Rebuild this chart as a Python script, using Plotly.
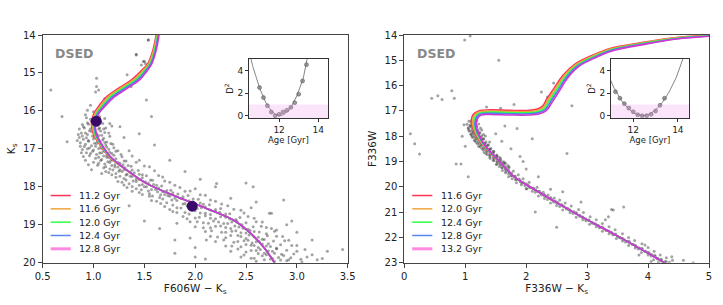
import numpy as np
import plotly.graph_objects as go

# ---------------- data ----------------
AGES_L = ["11.2 Gyr", "11.6 Gyr", "12.0 Gyr", "12.4 Gyr", "12.8 Gyr"]
AGES_R = ["11.6 Gyr", "12.0 Gyr", "12.4 Gyr", "12.8 Gyr", "13.2 Gyr"]
ISO_COLORS = ["#ff3355", "#f2a33a", "#33ff44", "#4f7ff0", "#d236d2"]
LEGEND_COLORS = ["#ff3355", "#f2a33a", "#33ff44", "#5a86f0", "#ff88e2"]
LEGEND_WIDTHS = [1.5, 1.5, 1.5, 1.5, 3]
AGE_STEPS = [-2, -1, 0, 1, 2]

# left panel isochrone (middle age), K_s vs F606W-K_s
iso_l_y = [14.0, 14.40, 14.75, 14.97, 15.19, 15.40, 15.62, 15.85, 16.06, 16.28, 16.59, 16.85,
           17.21, 17.56, 17.91, 18.26, 18.57, 18.87, 19.14, 19.58, 20.0]
iso_l_x = [1.630, 1.600, 1.555, 1.490, 1.410, 1.290, 1.170, 1.090, 1.030, 1.000, 1.012, 1.063,
           1.162, 1.326, 1.52, 1.82, 2.11, 2.37, 2.51, 2.67, 2.78]
iso_l_dx = [0.007, 0.008, 0.010, 0.015, 0.020, 0.022, 0.020, 0.016, 0.012, 0.010, 0.008, 0.006,
            0.003, 0.001, 0, 0, 0, 0, 0, 0, 0]
iso_l_dy = [0] * 21

# right panel isochrone (middle age), F336W vs F336W-K_s
iso_r_y = [14.03, 14.13, 14.33, 14.59, 14.85, 15.2, 15.65, 16.2, 16.6, 16.9, 17.02, 17.07,
           17.07, 17.05, 17.08, 17.2, 17.48, 17.89, 18.4, 19.0, 19.6, 20.0, 21.0, 22.0, 23.0]
iso_r_x = [5.0, 4.47, 3.93, 3.38, 3.11, 2.83, 2.64, 2.49, 2.38, 2.30, 2.20, 2.05,
           1.74, 1.40, 1.24, 1.17, 1.14, 1.19, 1.32, 1.56, 1.80, 2.06, 2.77, 3.54, 4.27]
iso_r_dx = [0, 0, 0.005, 0.008, 0.012, 0.015, 0.018, 0.02, 0.02, 0.015, 0.01, 0,
            0, 0, 0.01, 0.02, 0.02, 0.015, 0.008, 0.003, 0, 0, 0, 0, 0]
iso_r_dy = [0.01, 0.015, 0.02, 0.025, 0.025, 0.025, 0.03, 0.035, 0.04, 0.045, 0.045, 0.045,
            0.045, 0.045, 0.04, 0.03, 0.015, 0.005, 0, 0, 0, 0, 0, 0, 0]

# fiducial points (left panel)
dots_x = [1.027, 1.97]
dots_y = [16.27, 18.51]

# star photometry, left panel (colour, K_s)
stars_l = [
 (1.538,14.13),(1.49,14.70),(1.51,14.75),(1.47,14.79),(1.42,14.53),(1.44,15.10),(1.37,15.36),
 (1.33,15.05),(1.26,15.40),(1.21,15.58),(1.16,15.63),(1.11,15.67),(1.03,15.36),(1.05,15.45),
 (1.02,15.50),(0.97,15.85),(0.94,15.98),(1.00,16.02),(0.92,16.10),(1.57,16.15),(1.52,15.71),
 (1.06,16.15),(1.11,16.20),(1.16,16.33),(1.26,16.42),(1.50,14.69),(1.42,14.51),(1.03,15.14),
 (0.58,15.45),(0.69,16.15),(0.74,16.81),(1.54,14.13),
 (0.93,16.18),(0.97,16.22),(1.02,16.15),(1.06,16.28),(0.95,16.35),(0.99,16.40),(1.04,16.38),
 (1.09,16.33),(0.91,16.45),(0.96,16.52),(1.01,16.55),(1.05,16.48),(1.12,16.45),(0.88,16.58),
 (0.94,16.62),(0.99,16.66),(1.03,16.60),(1.08,16.64),(1.15,16.58),(0.86,16.70),(1.18,16.40),
 (0.90,16.75),(0.95,16.78),(1.00,16.74),(1.04,16.80),(1.09,16.77),(1.13,16.82),(0.92,16.88),
 (0.98,16.92),(1.03,16.86),(1.07,16.95),(1.12,16.90),(1.19,16.88),(0.94,17.00),(1.00,17.03),
 (1.05,16.99),(1.10,17.05),(1.15,17.01),(1.22,17.06),(0.97,17.12),(1.03,17.15),(1.08,17.10),
 (1.13,17.17),(1.18,17.12),(1.27,17.15),(1.35,17.05),(0.88,17.10),
 (1.02,17.25),(1.08,17.28),(1.13,17.22),(1.17,17.30),(1.22,17.26),(1.30,17.32),(1.05,17.38),
 (1.11,17.40),(1.16,17.36),(1.21,17.42),(1.26,17.38),(1.34,17.44),(1.42,17.35),(1.10,17.50),
 (1.16,17.53),(1.21,17.48),(1.26,17.55),(1.31,17.50),(1.38,17.56),(1.50,17.45),(1.15,17.62),
 (1.22,17.65),(1.28,17.60),(1.33,17.67),(1.40,17.63),(1.48,17.68),(1.60,17.58),(1.08,17.65),
 (1.22,17.75),(1.30,17.78),(1.36,17.72),(1.42,17.80),(1.48,17.76),(1.56,17.82),(1.68,17.74),
 (1.28,17.88),(1.35,17.92),(1.42,17.86),(1.48,17.94),(1.54,17.90),(1.62,17.96),(1.75,17.88),
 (1.33,18.02),(1.42,18.05),(1.50,18.00),(1.57,18.07),(1.64,18.03),(1.72,18.10),(1.85,18.02),
 (1.45,18.15),(1.55,18.18),(1.63,18.13),(1.70,18.20),(1.78,18.16),(1.90,18.12),(2.00,18.05),
 (1.55,18.25),(1.65,18.28),(1.73,18.23),(1.80,18.30),(1.88,18.26),(1.98,18.32),(2.10,18.22),
 (1.62,18.38),(1.72,18.42),(1.82,18.36),(1.90,18.44),(1.98,18.40),(2.08,18.46),(2.20,18.38),
 (1.70,18.52),(1.82,18.55),(1.92,18.50),(2.02,18.57),(2.10,18.53),(2.20,18.60),(2.32,18.50),
 (1.78,18.65),(1.90,18.68),(2.00,18.63),(2.10,18.70),(2.20,18.66),(2.30,18.72),(2.45,18.62),
 (2.55,18.55),
 (1.88,18.78),(2.00,18.82),(2.10,18.76),(2.20,18.84),(2.30,18.80),(2.40,18.86),(2.52,18.78),
 (1.95,18.92),(2.08,18.95),(2.18,18.90),(2.28,18.97),(2.36,18.93),(2.46,19.00),(2.60,18.92),
 (2.00,19.05),(2.15,19.08),(2.25,19.03),(2.35,19.10),(2.43,19.06),(2.52,19.12),(2.65,19.04),
 (2.75,19.10),(2.10,19.18),(2.30,19.20),(2.40,19.16),(2.50,19.22),(2.58,19.18),(2.70,19.24),
 (2.15,19.30),(2.30,19.34),(2.42,19.28),(2.50,19.36),(2.58,19.32),(2.66,19.38),(2.80,19.30),
 (2.20,19.44),(2.38,19.46),(2.48,19.42),(2.56,19.48),(2.63,19.44),(2.72,19.50),(2.88,19.42),
 (2.30,19.56),(2.45,19.58),(2.55,19.54),(2.62,19.60),(2.70,19.56),(2.80,19.62),(2.95,19.55),
 (2.35,19.70),(2.50,19.72),(2.60,19.68),(2.68,19.75),(2.76,19.70),(2.85,19.78),(3.00,19.70),
 (2.45,19.85),(2.58,19.88),(2.66,19.82),(2.74,19.90),(2.82,19.86),(2.92,19.92),(3.10,19.85),
 (2.60,19.96),(2.78,19.97),(2.90,19.95),(3.45,19.65),(3.20,19.92),(3.05,19.98),
 (1.75,17.30),(1.90,17.60),(2.05,17.80),(2.20,18.00),(2.35,18.30),(2.60,18.40),(2.75,18.70),
 (2.90,19.00),(1.60,16.90),(1.45,16.60),(1.30,16.70),(2.50,17.90),(3.15,19.40),(3.30,19.70),
 (1.50,18.90),(1.65,19.10),(1.80,19.40),(2.00,19.60),(2.10,19.90),(1.35,18.50),
 (1.80,19.75),(1.82,18.96),(2.11,19.40),(2.80,19.14),(2.73,18.70),(2.87,18.35),(2.57,18.00),
 (2.21,17.91),(1.95,19.35),(2.00,19.85),(3.00,19.20),(2.95,18.90),
 # blue edge of the turnoff region
 (0.85,16.62),(0.87,16.93),(0.89,17.02),(0.84,16.78),(0.90,17.20),(0.92,17.30),(0.95,17.42),
 (0.98,17.55),(0.86,16.48),(0.89,16.36),
 # dense main sequence
 (0.94,16.31),(0.98,16.27),(1.03,16.33),(1.07,16.29),
 (0.90,16.42),(0.97,16.47),(1.00,16.41),(1.06,16.45),(1.10,16.48),
 (0.92,16.58),(0.98,16.54),(1.02,16.59),(1.07,16.53),(1.11,16.57),
 (0.89,16.66),(0.93,16.71),(1.01,16.69),(1.05,16.65),(1.10,16.72),(1.16,16.67),
 (0.87,16.84),(0.95,16.80),(1.01,16.85),(1.06,16.79),(1.11,16.83),(1.17,16.86),
 (0.91,16.94),(0.96,16.98),(1.02,16.93),(1.08,16.99),(1.13,16.95),(1.20,16.97),
 (0.93,17.10),(0.99,17.06),(1.06,17.11),(1.11,17.07),(1.16,17.09),(1.24,17.05),
 (0.96,17.18),(1.05,17.22),(1.10,17.19),(1.15,17.23),(1.20,17.17),(1.28,17.21),(1.38,17.19),
 (1.00,17.35),(1.07,17.31),(1.14,17.34),(1.19,17.30),(1.24,17.36),(1.32,17.32),(1.45,17.30),
 (1.04,17.43),(1.12,17.47),(1.18,17.44),(1.24,17.48),(1.29,17.42),(1.37,17.46),(1.55,17.47),
 (1.12,17.60),(1.19,17.56),(1.25,17.59),(1.30,17.55),(1.36,17.61),(1.44,17.57),
 (1.18,17.68),(1.26,17.72),(1.32,17.69),(1.38,17.73),(1.45,17.67),(1.52,17.71),(1.64,17.70),
 (1.24,17.86),(1.32,17.82),(1.39,17.85),(1.45,17.81),(1.51,17.87),(1.58,17.83),(1.70,17.85),
 (1.30,17.95),(1.38,17.99),(1.45,17.96),(1.52,18.00),(1.59,17.94),(1.67,17.98),(1.80,17.96),
 (1.38,18.12),(1.47,18.08),(1.54,18.11),(1.61,18.07),(1.68,18.13),(1.76,18.09),(1.95,18.11),
 (1.48,18.20),(1.58,18.24),(1.66,18.21),(1.75,18.25),(1.83,18.19),(1.93,18.23),(2.05,18.21),
 (1.57,18.36),(1.68,18.32),(1.77,18.35),(1.86,18.31),(1.94,18.37),(2.03,18.33),(2.15,18.35),
 (1.66,18.44),(1.78,18.48),(1.88,18.45),(1.96,18.49),(2.05,18.43),(2.14,18.47),(2.26,18.45),
 (1.75,18.60),(1.86,18.56),(1.97,18.59),(2.06,18.55),(2.15,18.61),(2.25,18.57),(2.38,18.59),
 (1.82,18.68),(1.94,18.72),(2.05,18.69),(2.15,18.73),(2.24,18.67),(2.34,18.71),(2.48,18.69),
 (1.92,18.84),(2.04,18.80),(2.15,18.83),(2.25,18.79),(2.34,18.85),(2.44,18.81),(2.58,18.83),
 (2.02,18.92),(2.13,18.96),(2.23,18.93),(2.32,18.97),(2.41,18.91),(2.50,18.95),(2.66,18.93),
 (2.08,19.08),(2.20,19.04),(2.30,19.07),(2.39,19.03),(2.47,19.09),(2.57,19.05),(2.70,19.07),
 (2.16,19.16),(2.26,19.20),(2.36,19.17),(2.45,19.21),(2.54,19.15),(2.63,19.19),(2.78,19.17),
 (2.22,19.32),(2.35,19.28),(2.45,19.31),(2.53,19.27),(2.62,19.33),(2.71,19.29),(2.86,19.31),
 (2.28,19.40),(2.42,19.44),(2.52,19.41),(2.60,19.45),(2.68,19.39),(2.77,19.43),(2.92,19.41),
 (2.36,19.56),(2.50,19.52),(2.58,19.55),(2.66,19.51),(2.74,19.57),(2.84,19.53),(3.00,19.55),
 (2.42,19.64),(2.55,19.68),(2.64,19.65),(2.72,19.69),(2.80,19.63),(2.90,19.67),(3.08,19.65),
 (2.48,19.80),(2.62,19.76),(2.70,19.79),(2.78,19.75),(2.87,19.81),(2.97,19.77),(3.15,19.79),
 (2.55,19.88),(2.68,19.92),(2.76,19.89),(2.84,19.93),(2.94,19.87),(3.04,19.91),(3.25,19.89),
]
stars_l_x = [p[0] for p in stars_l]
stars_l_y = [p[1] for p in stars_l]

# star photometry, right panel (colour, F336W)
stars_r = [
 (1.10,17.45),(1.13,17.55),(1.08,17.60),(1.15,17.50),(1.18,17.62),(1.05,17.70),(1.11,17.72),
 (1.16,17.68),(1.21,17.75),(1.07,17.80),(1.13,17.84),(1.18,17.80),(1.24,17.86),(1.10,17.92),
 (1.15,17.96),(1.20,17.92),(1.27,17.98),(1.12,18.05),(1.18,18.08),(1.23,18.03),(1.30,18.10),
 (1.16,18.18),(1.22,18.20),(1.27,18.15),(1.34,18.22),(1.20,18.30),(1.26,18.33),(1.31,18.28),
 (1.38,18.35),(1.24,18.42),(1.30,18.46),(1.35,18.40),(1.42,18.48),(1.29,18.55),(1.35,18.58),
 (1.40,18.52),(1.47,18.60),(1.34,18.68),(1.40,18.72),(1.46,18.66),(1.52,18.74),(1.40,18.82),
 (1.47,18.86),(1.52,18.80),(1.58,18.88),(1.46,18.95),(1.53,19.00),(1.58,18.94),(1.64,19.02),
 (1.52,19.10),(1.58,19.14),(1.64,19.08),(1.70,19.16),(1.60,19.25),(1.66,19.28),(1.72,19.22),
 (1.67,19.40),(1.73,19.44),(1.79,19.38),(1.75,19.55),(1.82,19.58),(1.87,19.52),(1.83,19.70),
 (1.90,19.73),(1.95,19.68),(1.93,19.85),(2.00,19.88),(2.05,19.82),
 (2.05,20.00),(2.12,20.05),(2.15,20.12),(2.22,20.18),(2.24,20.25),(2.30,20.30),(2.33,20.38),
 (2.40,20.42),(2.42,20.50),(2.48,20.56),(2.52,20.62),(2.58,20.70),(2.62,20.78),(2.68,20.85),
 (2.72,20.92),(2.78,20.98),(2.82,21.05),(2.88,21.12),(2.92,21.20),(2.98,21.26),(3.02,21.32),
 (3.08,21.40),(3.12,21.46),(3.18,21.52),(3.22,21.60),(3.28,21.66),(3.32,21.72),(3.40,21.80),
 (3.44,21.88),(3.50,21.95),(3.55,22.02),(3.60,22.08),(3.66,22.15),(3.70,22.22),(3.76,22.28),
 (3.80,22.35),(3.86,22.42),(3.90,22.48),(3.96,22.55),(4.02,22.62),(4.06,22.68),(4.12,22.75),
 (4.16,22.82),(4.22,22.88),(4.28,22.95),(4.35,22.98),(4.40,22.90),(4.05,22.95),(3.85,22.70),
 (3.95,22.30),
 (2.00,20.08),(2.18,20.02),(2.28,20.22),(2.36,20.32),(2.46,20.44),(2.55,20.52),(2.64,20.64),
 (2.74,20.76),(2.86,20.90),(2.94,21.02),(3.05,21.18),(3.15,21.30),(3.25,21.45),(3.36,21.58),
 (3.46,21.70),(3.58,21.86),(3.68,22.00),(3.78,22.12),(3.90,22.25),(4.00,22.40),(4.10,22.55),
 (4.20,22.70),(4.30,22.80),
 (0.10,17.90),(0.17,18.30),(0.25,18.70),(0.45,16.50),(0.55,16.40),(0.62,16.55),(0.78,16.20),
 (0.82,16.50),(0.85,19.10),(0.93,19.10),(1.05,19.60),(0.98,17.55),(0.95,18.00),(1.00,18.40),
 (1.50,17.90),(1.60,18.20),(1.75,18.50),(1.90,18.80),(2.00,19.30),(2.20,19.60),(1.85,17.70),
 (2.10,18.10),(1.65,17.60),(2.40,20.10),(2.60,20.20),(2.90,20.60),(3.30,21.30),(3.60,20.80),
 (3.40,20.90),(2.50,21.60),(1.95,19.00),(2.15,21.00),(0.99,14.20),(1.08,14.04),(1.55,15.00),
 (1.35,16.85),(1.58,16.90),(1.80,16.75),(2.55,15.85),(2.75,16.80),(2.25,16.25),(2.45,15.90),
 (2.72,15.38),(2.35,16.45),(2.67,18.68),(4.39,22.76),(4.58,22.90),(4.74,23.00),(3.35,21.18),
 (3.43,20.92),
 # dense main sequence ridge
 (1.06,17.41),(1.10,17.38),(1.14,17.42),(1.19,17.39),
 (1.03,17.53),(1.08,17.57),(1.12,17.54),(1.16,17.58),(1.22,17.52),
 (1.05,17.67),(1.10,17.63),(1.14,17.66),(1.19,17.62),(1.25,17.68),
 (1.06,17.76),(1.11,17.80),(1.16,17.77),(1.20,17.81),(1.27,17.75),
 (1.09,17.92),(1.14,17.88),(1.18,17.91),(1.23,17.87),(1.30,17.93),
 (1.11,18.00),(1.16,18.04),(1.21,18.01),(1.26,18.05),(1.33,17.99),
 (1.15,18.16),(1.20,18.12),(1.25,18.15),(1.30,18.11),
 (1.18,18.24),(1.23,18.28),(1.28,18.25),(1.33,18.29),(1.40,18.23),
 (1.22,18.40),(1.27,18.36),(1.32,18.39),(1.37,18.35),
 (1.27,18.48),(1.32,18.52),(1.36,18.49),(1.41,18.53),
 (1.31,18.64),(1.36,18.60),(1.41,18.63),(1.46,18.59),
 (1.36,18.72),(1.41,18.76),(1.46,18.73),(1.51,18.77),
 (1.41,18.88),(1.46,18.84),(1.51,18.87),(1.56,18.83),
 (1.47,18.96),(1.52,19.00),(1.56,18.97),(1.61,19.01),
 (1.51,19.12),(1.56,19.08),(1.61,19.11),(1.66,19.07),
 (1.56,19.20),(1.61,19.24),(1.66,19.21),(1.71,19.25),
 (1.61,19.36),(1.66,19.32),(1.71,19.35),
 (1.66,19.44),(1.71,19.48),(1.76,19.45),
 (1.71,19.60),(1.76,19.56),(1.81,19.59),
 (1.77,19.68),(1.83,19.72),(1.88,19.69),
 (1.84,19.84),(1.90,19.80),(1.95,19.83),
 (1.92,19.92),(1.98,19.96),(2.03,19.93),
 (2.01,20.08),(2.06,20.04),(2.11,20.07),
 (2.10,20.18),(2.15,20.22),(2.20,20.19),
 (2.20,20.36),(2.25,20.32),(2.30,20.35),
 (2.30,20.46),(2.35,20.50),(2.40,20.47),
 (2.40,20.64),(2.45,20.60),(2.50,20.63),
 (2.50,20.74),(2.55,20.78),(2.60,20.75),
 (2.60,20.92),(2.66,20.88),(2.70,20.91),
 (2.72,21.02),(2.77,21.06),(2.82,21.03),
 (2.82,21.20),(2.88,21.16),(2.93,21.19),
 (2.93,21.30),(2.98,21.34),(3.03,21.31),
 (3.04,21.48),(3.09,21.44),(3.14,21.47),
 (3.15,21.58),(3.20,21.62),(3.25,21.59),
 (3.25,21.76),(3.31,21.72),(3.36,21.75),
 (3.36,21.86),(3.42,21.90),(3.47,21.87),
 (3.48,22.04),(3.53,22.00),(3.58,22.03),
 (3.58,22.14),(3.63,22.18),(3.69,22.15),
 (3.68,22.32),(3.74,22.28),(3.79,22.31),
 (3.79,22.42),(3.84,22.46),(3.90,22.43),
 (3.89,22.60),(3.95,22.56),(4.00,22.59),
 (4.00,22.70),(4.05,22.74),(4.11,22.71),
 (4.09,22.88),(4.15,22.84),(4.21,22.87),
 (4.17,22.97),(4.24,22.99),(4.30,22.96),
]
stars_r_x = [p[0] for p in stars_r]
stars_r_y = [p[1] for p in stars_r]

# D^2 vs age insets
inset_l_age = [11.0, 11.2, 11.4, 11.6, 11.8, 12.0, 12.2, 12.4, 12.6, 12.8, 13.0, 13.2, 13.4]
inset_l_d2 = [2.48, 1.60, 0.88, 0.33, 0.00, 0.12, 0.33, 0.48, 0.74, 1.15, 1.90, 3.07, 4.50]
inset_r_age = [11.2, 11.4, 11.6, 11.8, 12.0, 12.2, 12.4, 12.6, 12.8, 13.0, 13.2, 13.4]
inset_r_d2 = [2.12, 1.54, 1.06, 0.68, 0.35, 0.09, 0.00, 0.00, 0.12, 0.42, 0.92, 1.54]
D2_LIMIT = 1.0

# ---------------- figure ----------------
FONT = "DejaVu Sans"
fig = go.Figure()

STAR_MARKER = dict(size=3, color="rgba(50,50,50,0.45)", line=dict(width=0))
fig.add_trace(go.Scatter(x=stars_l_x, y=stars_l_y, mode="markers", marker=STAR_MARKER,
                         showlegend=False, xaxis="x", yaxis="y", hoverinfo="skip"))
fig.add_trace(go.Scatter(x=stars_r_x, y=stars_r_y, mode="markers", marker=STAR_MARKER,
                         showlegend=False, xaxis="x2", yaxis="y2", hoverinfo="skip"))

for k, lab, col in zip(AGE_STEPS, AGES_L, ISO_COLORS):
    xs = [x + k * d for x, d in zip(iso_l_x, iso_l_dx)]
    ys = [y + k * d for y, d in zip(iso_l_y, iso_l_dy)]
    fig.add_trace(go.Scatter(x=xs, y=ys, mode="lines", name=lab, showlegend=False,
                             line=dict(color=col, width=1.6, shape="spline", smoothing=1.0),
                             xaxis="x", yaxis="y"))
for k, lab, col in zip(AGE_STEPS, AGES_R, ISO_COLORS):
    xs = [x + k * d for x, d in zip(iso_r_x, iso_r_dx)]
    ys = [y + k * d for y, d in zip(iso_r_y, iso_r_dy)]
    fig.add_trace(go.Scatter(x=xs, y=ys, mode="lines", name=lab, showlegend=False,
                             line=dict(color=col, width=1.6, shape="spline", smoothing=1.0),
                             xaxis="x2", yaxis="y2"))

fig.add_trace(go.Scatter(x=dots_x, y=dots_y, mode="markers",
                         marker=dict(size=11, color="#3a0a6a"), showlegend=False,
                         xaxis="x", yaxis="y"))

# insets
for ages, d2, xa, ya in [(inset_l_age, inset_l_d2, "x3", "y3"),
                         (inset_r_age, inset_r_d2, "x4", "y4")]:
    coef = np.polyfit(ages, d2, 2)
    fx = np.linspace(10.3, 14.6, 200)
    fy = np.polyval(coef, fx)
    fig.add_trace(go.Scatter(x=fx, y=fy, mode="lines", line=dict(color="#666666", width=0.8),
                             showlegend=False, xaxis=xa, yaxis=ya, hoverinfo="skip"))
    fig.add_trace(go.Scatter(x=ages, y=d2, mode="markers",
                             marker=dict(size=4, color="rgba(120,120,120,0.75)",
                                         line=dict(color="#555555", width=0.5)),
                             showlegend=False, xaxis=xa, yaxis=ya))

W, H = 723, 305
def dx(a, b):
    return [a / W, b / W]
def dy(top, bot):
    return [1 - bot / H, 1 - top / H]

axis_common = dict(showline=True, mirror=True, linecolor="#444444", linewidth=1,
                   ticks="outside", ticklen=4, tickcolor="#444444", showgrid=False,
                   zeroline=False, tickfont=dict(family=FONT, size=10, color="#222222"))
inset_common = dict(showline=True, mirror=True, linecolor="#333333", linewidth=1,
                    ticks="outside", ticklen=3, tickcolor="#333333", showgrid=False,
                    zeroline=False, tickfont=dict(family=FONT, size=9, color="#222222"))

fig.update_layout(
    width=W, height=H, margin=dict(l=0, r=0, t=0, b=0, autoexpand=False),
    paper_bgcolor="white", plot_bgcolor="white", showlegend=False,
    font=dict(family=FONT, color="#222222"),
    xaxis=dict(domain=dx(42.7, 347.7), range=[0.5, 3.5], dtick=0.5, tickformat=".1f",
               title=dict(text="F606W − K<sub>s</sub>", font=dict(size=10.5), standoff=3),
               anchor="y", **axis_common),
    yaxis=dict(domain=dy(35, 262.7), range=[20, 14], dtick=1,
               title=dict(text="K<sub>s</sub>", font=dict(size=10.5), standoff=5),
               anchor="x", **axis_common),
    xaxis2=dict(domain=dx(404.3, 709), range=[0, 5], dtick=1,
                title=dict(text="F336W − K<sub>s</sub>", font=dict(size=10.5), standoff=3),
                anchor="y2", **axis_common),
    yaxis2=dict(domain=dy(35, 262.7), range=[23, 14], dtick=1,
                title=dict(text="F336W", font=dict(size=10.5), standoff=5),
                anchor="x2", **axis_common),
    xaxis3=dict(domain=dx(249, 328), range=[10.46, 14.5], tickvals=[12, 14],
                title=dict(text="Age [Gyr]", font=dict(size=8.5), standoff=1),
                anchor="y3", **inset_common),
    yaxis3=dict(domain=dy(59, 118), range=[-0.2, 5], tickvals=[0, 2, 4],
                title=dict(text="D<sup>2</sup>", font=dict(size=8.5), standoff=2),
                anchor="x3", **inset_common),
    xaxis4=dict(domain=dx(611, 689), range=[11.0, 14.5], tickvals=[12, 14],
                title=dict(text="Age [Gyr]", font=dict(size=8.5), standoff=1),
                anchor="y4", **inset_common),
    yaxis4=dict(domain=dy(59, 118), range=[-0.2, 5], tickvals=[0, 2, 4],
                title=dict(text="D<sup>2</sup>", font=dict(size=8.5), standoff=2),
                anchor="x4", **inset_common),
)

# legends (drawn inside each panel, lower-left)
LEG_TOP, LEG_STEP = 0.295, 0.0585
for xr, yr, labels in [("x domain", "y domain", AGES_L), ("x2 domain", "y2 domain", AGES_R)]:
    for i, (lab, col, lw) in enumerate(zip(labels, LEGEND_COLORS, LEGEND_WIDTHS)):
        yy = LEG_TOP - i * LEG_STEP
        fig.add_shape(type="line", xref=xr, yref=yr, x0=0.026, x1=0.092, y0=yy, y1=yy,
                      line=dict(color=col, width=lw))
        fig.add_annotation(xref=xr, yref=yr, x=0.113, y=yy, xanchor="left", yanchor="middle",
                           showarrow=False, text=lab,
                           font=dict(family=FONT, size=9.5, color="#222222"))

# shaded D^2 < 1 region in insets
for xa, ya in [("x3", "y3"), ("x4", "y4")]:
    fig.add_shape(type="rect", xref=f"{xa} domain", yref=ya, x0=0, x1=1, y0=-0.2, y1=D2_LIMIT,
                  fillcolor="rgba(238,160,238,0.28)", line=dict(width=0), layer="above")

# DSED labels
for xr, yr in [("x domain", "y domain"), ("x2 domain", "y2 domain")]:
    fig.add_annotation(xref=xr, yref=yr, x=0.035, y=0.96, xanchor="left", yanchor="top",
                       showarrow=False, text="<b>DSED</b>",
                       font=dict(family=FONT, size=12.5, color="#888888"))

fig.write_html("out.html", config={"displayModeBar": False},
               post_script="document.body.style.margin='0';document.body.style.padding='0';")
